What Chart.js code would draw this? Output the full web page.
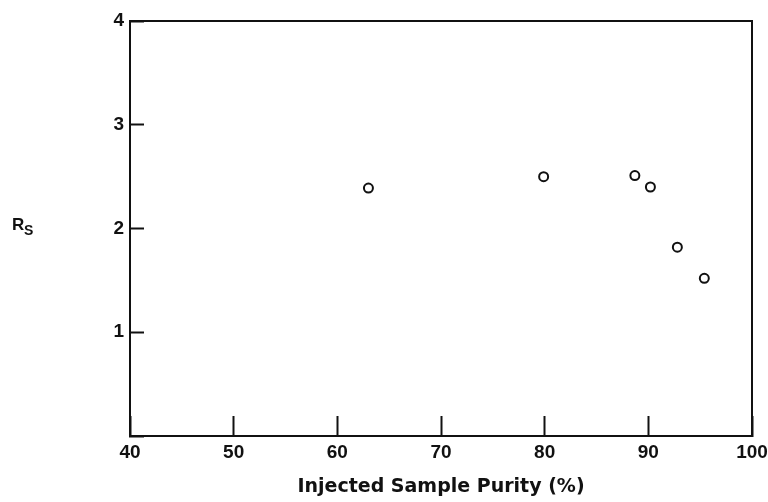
<!DOCTYPE html>
<html>
<head>
<meta charset="utf-8">
<script src="https://cdn.jsdelivr.net/npm/chart.js@4.4.1/dist/chart.umd.min.js"></script>
<style>
  html, body { margin: 0; padding: 0; background: #fff; }
  #wrap { width: 768px; height: 502px; }
</style>
</head>
<body>
<div id="wrap"><canvas id="grafico"></canvas></div>
<script>
// valores
const pureza = [63.0, 79.9, 88.7, 90.2, 92.8, 95.4];
const rs = [2.39, 2.50, 2.51, 2.40, 1.82, 1.52];
const xMin = 40, xMax = 100, xPasso = 10;
const yMin = 0, yMax = 4, yPasso = 1;
const tituloX = "Injected Sample Purity (%)";

const preto = "#111";

// moldura em volta da área do gráfico + rótulo R_S com subscrito
const moldura = {
  id: "moldura",
  afterDraw(chart) {
    const { ctx, chartArea: a } = chart;
    ctx.save();
    ctx.strokeStyle = preto;
    ctx.lineWidth = 2;
    ctx.strokeRect(a.left, a.top, a.right - a.left, a.bottom - a.top);

    ctx.fillStyle = preto;
    ctx.textBaseline = "alphabetic";
    ctx.font = "bold 17px 'Liberation Sans'";
    ctx.fillText("R", 12, 230);
    ctx.font = "bold 14px 'Liberation Sans'";
    ctx.fillText("S", 24, 235);
    ctx.restore();
  }
};

new Chart(document.getElementById("grafico"), {
  type: "scatter",
  data: {
    datasets: [{
      data: pureza.map((x, i) => ({ x: x, y: rs[i] })),
      pointStyle: "circle",
      pointRadius: 4.5,
      pointHoverRadius: 4.5,
      pointBorderWidth: 2,
      pointBorderColor: preto,
      pointBackgroundColor: "#fff"
    }]
  },
  options: {
    responsive: true,
    maintainAspectRatio: false,
    animation: false,
    layout: { padding: { top: 21, right: 16, left: 0, bottom: 0 } },
    plugins: {
      legend: { display: false },
      tooltip: { enabled: false }
    },
    scales: {
      x: {
        type: "linear",
        min: xMin,
        max: xMax,
        ticks: {
          stepSize: xPasso,
          padding: 25,
          color: preto,
          font: { family: "Liberation Sans", weight: "bold", size: 19 }
        },
        grid: {
          drawOnChartArea: false,
          tickLength: -20,
          tickWidth: 2,
          tickColor: preto
        },
        border: { display: true, color: preto, width: 2 },
        title: {
          display: true,
          text: tituloX,
          color: preto,
          padding: { top: 0, bottom: 4 },
          font: { family: "DejaVu Sans", weight: "bold", size: 19 }
        },
        afterFit(scale) {
          scale.height = 66;
          scale.paddingLeft = 0;
          scale.paddingRight = 0;
        }
      },
      y: {
        type: "linear",
        min: yMin,
        max: yMax,
        ticks: {
          stepSize: yPasso,
          padding: 20,
          color: preto,
          font: { family: "Liberation Sans", weight: "bold", size: 19 },
          callback: v => (v === 0 ? "" : v)
        },
        grid: {
          drawOnChartArea: false,
          tickLength: -14,
          tickWidth: 2,
          tickColor: preto
        },
        border: { display: true, color: preto, width: 2 },
        afterFit(scale) {
          scale.width = 130;
          scale.paddingTop = 0;
          scale.paddingBottom = 0;
        }
      }
    }
  },
  plugins: [moldura]
});
</script>
</body>
</html>
